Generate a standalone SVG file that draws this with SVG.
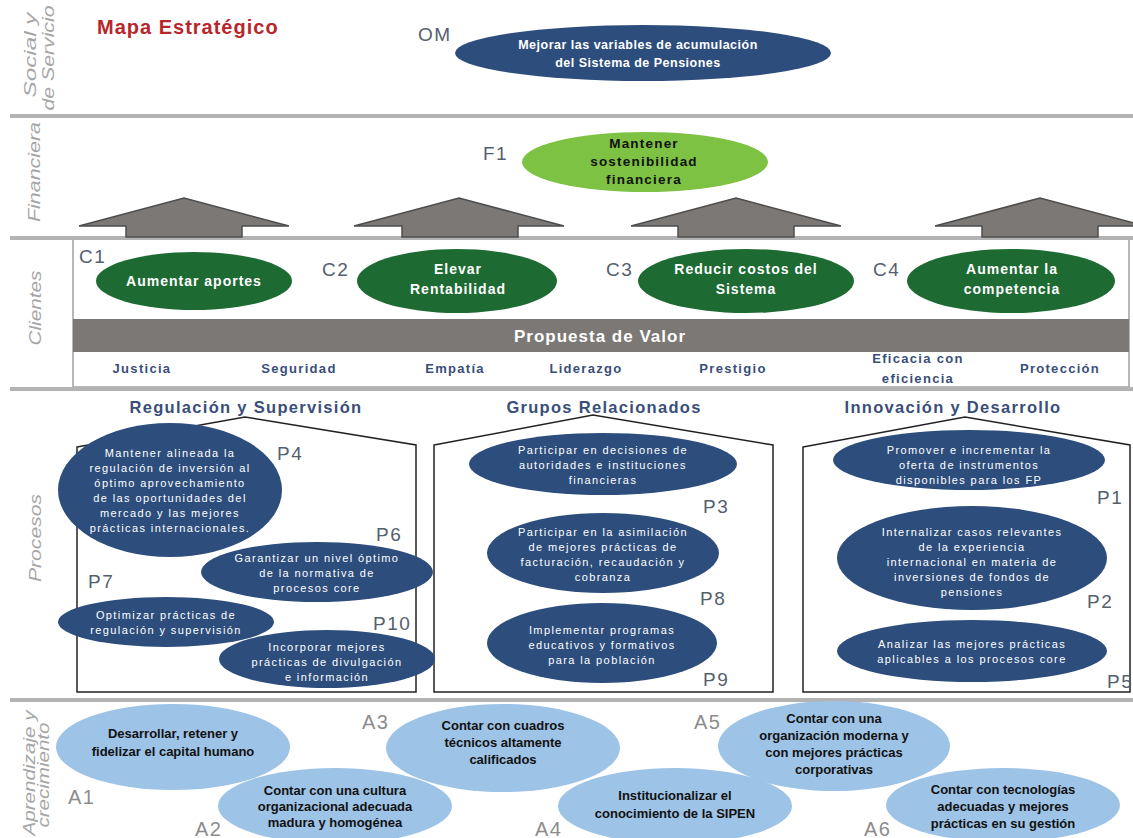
<svg xmlns="http://www.w3.org/2000/svg" width="1133" height="838" viewBox="0 0 1133 838">
<style>
.sep{stroke:#b3b3b3;stroke-width:4;fill:none}
.side{font-family:"Liberation Sans",Arial,sans-serif;font-style:italic;font-size:16px;fill:#a6a6a6;text-anchor:middle}
.lbl{font-family:"Liberation Sans",Arial,sans-serif;font-size:19px;letter-spacing:1.5px;fill:#55606f}
.albl{font-family:"Liberation Sans",Arial,sans-serif;font-size:20px;letter-spacing:1.5px;fill:#8c8c8c}
.blue{fill:#2d4e7d}
.dgreen{fill:#1d6a33}
.lgreen{fill:#7dc242}
.lblue{fill:#9dc3e6}
.wt{font-family:"Liberation Sans",Arial,sans-serif;font-weight:bold;font-size:14px;letter-spacing:1px;fill:#ffffff;text-anchor:middle}
.om{font-family:"Liberation Sans",Arial,sans-serif;font-weight:bold;font-size:12.5px;letter-spacing:0.5px;fill:#ffffff;text-anchor:middle}
.pt{font-family:"Liberation Sans",Arial,sans-serif;font-size:11px;letter-spacing:1.4px;fill:#ffffff;text-anchor:middle}
.ft{font-family:"Liberation Sans",Arial,sans-serif;font-weight:bold;font-size:13.5px;letter-spacing:1.2px;fill:#111111;text-anchor:middle}
.bt{font-family:"Liberation Sans",Arial,sans-serif;font-weight:bold;font-size:13px;fill:#111111;text-anchor:middle}
.val{font-family:"Liberation Sans",Arial,sans-serif;font-weight:bold;font-size:13px;letter-spacing:1.3px;fill:#3a4e7a;text-anchor:middle}
.head{font-family:"Liberation Sans",Arial,sans-serif;font-weight:bold;font-size:16.5px;letter-spacing:1.3px;fill:#3a4e7a;text-anchor:middle}
.house{fill:none;stroke:#222;stroke-width:1.5}
.arrow{fill:#7b7875;stroke:#4d4d4d;stroke-width:1.5}
</style>
<rect width="1133" height="838" fill="#ffffff"/>

<!-- separators and band frames -->
<g id="bands">
<line class="sep" x1="10" y1="116" x2="1133" y2="116"/>
<rect x="73" y="239" width="1056" height="148" fill="#ffffff" stroke="#a0a0a0" stroke-width="1.5"/>
<line class="sep" x1="10" y1="238" x2="1133" y2="238"/>
<line class="sep" x1="10" y1="389" x2="1133" y2="389"/>
<line class="sep" x1="10" y1="700" x2="1133" y2="700"/>
</g>

<g id="side-labels">
<text class="side" transform="translate(36,55) rotate(-90)" textLength="85" lengthAdjust="spacingAndGlyphs">Social y</text>
<text class="side" transform="translate(54,58) rotate(-90)" textLength="105" lengthAdjust="spacingAndGlyphs">de Servicio</text>
<text class="side" transform="translate(40,172) rotate(-90)" textLength="100" lengthAdjust="spacingAndGlyphs">Financiera</text>
<text class="side" transform="translate(41,308) rotate(-90)" textLength="75" lengthAdjust="spacingAndGlyphs">Clientes</text>
<text class="side" transform="translate(41,538) rotate(-90)" textLength="88" lengthAdjust="spacingAndGlyphs">Procesos</text>
<text class="side" transform="translate(35,773) rotate(-90)" textLength="125" lengthAdjust="spacingAndGlyphs">Aprendizaje y</text>
<text class="side" transform="translate(49,775) rotate(-90)" textLength="105" lengthAdjust="spacingAndGlyphs">crecimiento</text>
</g>

<text x="97" y="34" font-family="'Liberation Sans',Arial,sans-serif" font-weight="bold" font-size="20" letter-spacing="1" fill="#b8262b">Mapa Estratégico</text>

<g id="connectors">
<polygon class="arrow" points="79,226 184,198 289,226 242,226 242,237 126,237 126,226"/>
<polygon class="arrow" points="354,226 459,198 564,226 518,226 518,237 402,237 402,226"/>
<polygon class="arrow" points="631,226 736,198 841,226 794,226 794,237 678,237 678,226"/>
<polygon class="arrow" points="935,226 1040,198 1145,226 1098,226 1098,237 982,237 982,226"/>
</g>

<g id="OM">
<text class="lbl" x="418" y="41">OM</text>
<ellipse class="blue" cx="643" cy="53" rx="188" ry="28"/>
<text class="om" x="638" y="49">Mejorar las variables de acumulación</text>
<text class="om" x="638" y="67">del Sistema de Pensiones</text>
</g>

<g id="F1">
<text class="lbl" x="483" y="160">F1</text>
<ellipse class="lgreen" cx="645" cy="162" rx="123" ry="30"/>
<text class="ft" x="644" y="148">Mantener</text>
<text class="ft" x="644" y="166">sostenibilidad</text>
<text class="ft" x="644" y="184">financiera</text>
</g>

<g id="C1">
<text class="lbl" x="79" y="263">C1</text>
<ellipse class="dgreen" cx="194" cy="281" rx="98" ry="29"/>
<text class="wt" x="194" y="286">Aumentar aportes</text>
</g>
<g id="C2">
<text class="lbl" x="322" y="276">C2</text>
<ellipse class="dgreen" cx="457" cy="281" rx="100" ry="32"/>
<text class="wt" x="458" y="274">Elevar</text>
<text class="wt" x="458" y="294">Rentabilidad</text>
</g>
<g id="C3">
<text class="lbl" x="606" y="276">C3</text>
<ellipse class="dgreen" cx="746" cy="281" rx="108" ry="32"/>
<text class="wt" x="746" y="274">Reducir costos del</text>
<text class="wt" x="746" y="294">Sistema</text>
</g>
<g id="C4">
<text class="lbl" x="873" y="276">C4</text>
<ellipse class="dgreen" cx="1011" cy="281" rx="104" ry="32"/>
<text class="wt" x="1012" y="274">Aumentar la</text>
<text class="wt" x="1012" y="294">competencia</text>
</g>

<g id="propuesta">
<rect x="73" y="319" width="1056" height="33" fill="#7b7875"/>
<text x="600" y="342" text-anchor="middle" font-family="'Liberation Sans',Arial,sans-serif" font-weight="bold" font-size="17" letter-spacing="1" fill="#ffffff">Propuesta de Valor</text>
<text class="val" x="142" y="373">Justicia</text>
<text class="val" x="299" y="373">Seguridad</text>
<text class="val" x="455" y="373">Empatía</text>
<text class="val" x="586" y="373">Liderazgo</text>
<text class="val" x="733" y="373">Prestigio</text>
<text class="val" x="918" y="363">Eficacia con</text>
<text class="val" x="918" y="383">eficiencia</text>
<text class="val" x="1060" y="373">Protección</text>
</g>

<g id="headings">
<text class="head" x="246" y="413">Regulación y Supervisión</text>
<text class="head" x="604" y="413">Grupos Relacionados</text>
<text class="head" x="953" y="413">Innovación y Desarrollo</text>
</g>

<g id="houses">
<polygon class="house" points="77,447 245,417 416,445 416,692 77,692"/>
<polygon class="house" points="434,445 593,415 773,445 773,692 434,692"/>
<polygon class="house" points="803,447 965,417 1130,445 1130,692 803,692"/>
</g>

<g id="P4">
<ellipse class="blue" cx="170" cy="490" rx="112" ry="67"/>
<text class="pt" x="170" y="457">Mantener alineada la</text>
<text class="pt" x="170" y="472">regulación de inversión al</text>
<text class="pt" x="170" y="487">óptimo aprovechamiento</text>
<text class="pt" x="170" y="502">de las oportunidades del</text>
<text class="pt" x="170" y="517">mercado y las mejores</text>
<text class="pt" x="170" y="532">prácticas internacionales.</text>
<text class="lbl" x="277" y="460">P4</text>
</g>
<g id="P6">
<ellipse class="blue" cx="317" cy="572" rx="116" ry="30"/>
<text class="pt" x="317" y="562">Garantizar un nivel óptimo</text>
<text class="pt" x="317" y="577">de la normativa de</text>
<text class="pt" x="317" y="592">procesos core</text>
<text class="lbl" x="376" y="541">P6</text>
</g>
<g id="P7">
<ellipse class="blue" cx="166" cy="622" rx="108" ry="25"/>
<text class="pt" x="166" y="619">Optimizar prácticas de</text>
<text class="pt" x="166" y="634">regulación y supervisión</text>
<text class="lbl" x="88" y="588">P7</text>
</g>
<g id="P10">
<ellipse class="blue" cx="327" cy="659" rx="108" ry="29"/>
<text class="pt" x="327" y="651">Incorporar mejores</text>
<text class="pt" x="327" y="666">prácticas de divulgación</text>
<text class="pt" x="327" y="681">e información</text>
<text class="lbl" x="373" y="630">P10</text>
</g>

<g id="P3">
<ellipse class="blue" cx="603" cy="464" rx="134" ry="31"/>
<text class="pt" x="603" y="454">Participar en decisiones de</text>
<text class="pt" x="603" y="469">autoridades e instituciones</text>
<text class="pt" x="603" y="484">financieras</text>
<text class="lbl" x="703" y="513">P3</text>
</g>
<g id="P8">
<ellipse class="blue" cx="603" cy="553" rx="116" ry="40"/>
<text class="pt" x="603" y="536">Participar en la asimilación</text>
<text class="pt" x="603" y="551">de mejores prácticas de</text>
<text class="pt" x="603" y="566">facturación, recaudación y</text>
<text class="pt" x="603" y="581">cobranza</text>
<text class="lbl" x="700" y="605">P8</text>
</g>
<g id="P9">
<ellipse class="blue" cx="602" cy="643" rx="115" ry="40"/>
<text class="pt" x="602" y="634">Implementar programas</text>
<text class="pt" x="602" y="649">educativos y formativos</text>
<text class="pt" x="602" y="664">para la población</text>
<text class="lbl" x="703" y="686">P9</text>
</g>

<g id="P1">
<ellipse class="blue" cx="969" cy="460" rx="136" ry="30"/>
<text class="pt" x="969" y="454">Promover e incrementar la</text>
<text class="pt" x="969" y="469">oferta de instrumentos</text>
<text class="pt" x="969" y="484">disponibles para los FP</text>
<text class="lbl" x="1097" y="504">P1</text>
</g>
<g id="P2">
<ellipse class="blue" cx="972" cy="558" rx="135" ry="52"/>
<text class="pt" x="972" y="536">Internalizar casos relevantes</text>
<text class="pt" x="972" y="551">de la experiencia</text>
<text class="pt" x="972" y="566">internacional en materia de</text>
<text class="pt" x="972" y="581">inversiones de fondos de</text>
<text class="pt" x="972" y="596">pensiones</text>
<text class="lbl" x="1087" y="608">P2</text>
</g>
<g id="P5">
<ellipse class="blue" cx="972" cy="651" rx="135" ry="31"/>
<text class="pt" x="972" y="648">Analizar las mejores prácticas</text>
<text class="pt" x="972" y="663">aplicables a los procesos core</text>
<text class="lbl" x="1107" y="688">P5</text>
</g>

<g id="A1">
<ellipse class="lblue" cx="173" cy="747" rx="117" ry="43"/>
<text class="bt" x="173" y="738">Desarrollar, retener y</text>
<text class="bt" x="173" y="756">fidelizar el capital humano</text>
<text class="albl" x="68" y="804">A1</text>
</g>
<g id="A2">
<ellipse class="lblue" cx="335" cy="806" rx="117" ry="38"/>
<text class="bt" x="335" y="795">Contar con una cultura</text>
<text class="bt" x="335" y="811">organizacional adecuada</text>
<text class="bt" x="335" y="827">madura y homogénea</text>
<text class="albl" x="195" y="836">A2</text>
</g>
<g id="A3">
<ellipse class="lblue" cx="503" cy="748" rx="117" ry="44"/>
<text class="bt" x="503" y="730">Contar con cuadros</text>
<text class="bt" x="503" y="747">técnicos altamente</text>
<text class="bt" x="503" y="764">calificados</text>
<text class="albl" x="362" y="729">A3</text>
</g>
<g id="A4">
<ellipse class="lblue" cx="675" cy="806" rx="117" ry="38"/>
<text class="bt" x="675" y="800">Institucionalizar el</text>
<text class="bt" x="675" y="818">conocimiento de la SIPEN</text>
<text class="albl" x="535" y="836">A4</text>
</g>
<g id="A5">
<ellipse class="lblue" cx="834" cy="746" rx="116" ry="45"/>
<text class="bt" x="834" y="723">Contar con una</text>
<text class="bt" x="834" y="740">organización moderna y</text>
<text class="bt" x="834" y="757">con mejores prácticas</text>
<text class="bt" x="834" y="774">corporativas</text>
<text class="albl" x="694" y="729">A5</text>
</g>
<g id="A6">
<ellipse class="lblue" cx="1003" cy="805" rx="117" ry="37"/>
<text class="bt" x="1003" y="794">Contar con tecnologías</text>
<text class="bt" x="1003" y="811">adecuadas y mejores</text>
<text class="bt" x="1003" y="828">prácticas en su gestión</text>
<text class="albl" x="864" y="836">A6</text>
</g>
</svg>
